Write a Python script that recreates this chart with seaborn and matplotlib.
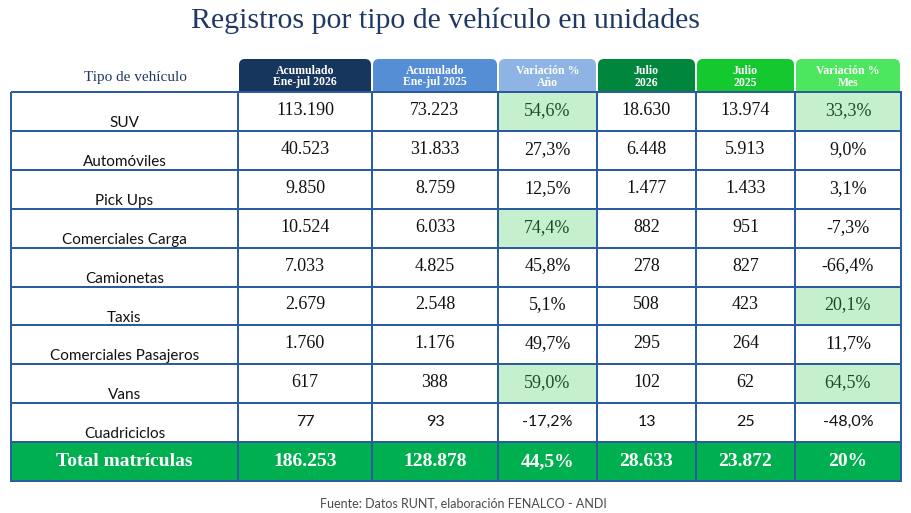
import numpy as np
import seaborn as sns
import matplotlib.pyplot as plt
from matplotlib.colors import ListedColormap
from matplotlib.patches import FancyBboxPatch

# Datos de la tabla (registros RUNT)
TIPOS = ["SUV", "Automóviles", "Pick Ups", "Comerciales Carga", "Camionetas",
         "Taxis", "Comerciales Pasajeros", "Vans", "Cuadriciclos"]
ACUM_2026 = [113190, 40523, 9850, 10524, 7033, 2679, 1760, 617, 77]
ACUM_2025 = [73223, 31833, 8759, 6033, 4825, 2548, 1176, 388, 93]
VAR_ANIO = [54.6, 27.3, 12.5, 74.4, 45.8, 5.1, 49.7, 59.0, -17.2]
JULIO_2026 = [18630, 6448, 1477, 882, 278, 508, 295, 102, 13]
JULIO_2025 = [13974, 5913, 1433, 951, 827, 423, 264, 62, 25]
VAR_MES = [33.3, 9.0, 3.1, -7.3, -66.4, 20.1, 11.7, 64.5, -48.0]
TOTAL = [186253, 128878, 44.5, 28633, 23872, 20]
HEADERS = ["Acumulado\nEne-jul 2026", "Acumulado\nEne-jul 2025", "Variación %\nAño",
           "Julio\n2026", "Julio\n2025", "Variación %\nMes"]
DESTACADOS_ANIO = ["SUV", "Comerciales Carga", "Vans"]
DESTACADOS_MES = ["SUV", "Taxis", "Vans"]

# Layout (pixeles)
COL_EDGES = [11, 238, 372, 498, 597, 696, 795, 901]
HEAD_TOP = 59
BODY_TOP = 92
ROW_H = 38.9
HEAD_COLORS = ["#17365D", "#558ED5", "#8DB4E2", "#00873D", "#14C930", "#4DE65F"]
BORDER = "#2B5C9E"
NAVY = "#1F3864"


def miles(v):
    return f"{v:,}".replace(",", ".")


def pct(v, dec=1):
    return f"{v:.{dec}f}%".replace(".", ",")


sns.set_theme(style="white")
fig = plt.figure(figsize=(9.12, 5.13), dpi=100)
ax = fig.add_axes([0, 0, 1, 1])
ax.set_xlim(0, 912)
ax.set_ylim(513, 0)
ax.axis("off")

# celdas
n = len(TIPOS)
codes = np.zeros((n + 1, 7))
for i, t in enumerate(TIPOS):
    if t in DESTACADOS_ANIO:
        codes[i, 3] = 1
    if t in DESTACADOS_MES:
        codes[i, 6] = 1
codes[n, :] = 2
row_edges = [BODY_TOP + ROW_H * i for i in range(n + 2)]
cmap = ListedColormap(["white", "#C6EFCE", "#00B050"])
ax.pcolormesh(COL_EDGES, row_edges, codes, cmap=cmap, vmin=-0.5, vmax=2.5,
              edgecolors=BORDER, linewidth=1.3, zorder=2)

# encabezados
for j, (h, c) in enumerate(zip(HEADERS, HEAD_COLORS)):
    x0, x1 = COL_EDGES[j + 1], COL_EDGES[j + 2]
    ax.add_patch(FancyBboxPatch((x0 + 1, HEAD_TOP), x1 - x0 - 2, 45,
                                boxstyle="round,pad=0,rounding_size=6",
                                facecolor=c, edgecolor="none", zorder=1))
    ax.text((x0 + x1) / 2, (HEAD_TOP + BODY_TOP) / 2 + 1, h, ha="center", va="center",
            color="white", fontsize=8.5, fontweight="bold", family="Liberation Serif",
            linespacing=1.0, zorder=3)

ax.text(135, 78, "Tipo de vehículo", ha="center", va="center", color=NAVY,
        fontsize=11, family="Liberation Serif", zorder=3)

# valores
cols = [ACUM_2026, ACUM_2025, VAR_ANIO, JULIO_2026, JULIO_2025, VAR_MES]
fmts = [miles, miles, pct, miles, miles, pct]
label_x = (COL_EDGES[0] + COL_EDGES[1]) / 2
for i, t in enumerate(TIPOS):
    top = row_edges[i]
    ax.text(label_x, top + 31, t, ha="center", va="center", color="#111111",
            fontsize=11, family="Lato", zorder=3)
    last = i == n - 1
    for j, (vals, f) in enumerate(zip(cols, fmts)):
        xc = (COL_EDGES[j + 1] + COL_EDGES[j + 2]) / 2
        hl = codes[i, j + 1] == 1
        ax.text(xc, top + ROW_H / 2 - 1, f(vals[i]), ha="center", va="center",
                color="#1A4D27" if hl else "#111111", fontsize=11.5 if last else 13,
                family="Lato" if last else "Liberation Serif", zorder=3)

# fila total
ytot = row_edges[n] + ROW_H / 2
ax.text(label_x, ytot, "Total matrículas", ha="center", va="center", color="white",
        fontsize=14, fontweight="bold", family="Liberation Serif", zorder=3)
tot_fmts = [miles, miles, pct, miles, miles, lambda v: pct(v, 0)]
for j, (v, f) in enumerate(zip(TOTAL, tot_fmts)):
    xc = (COL_EDGES[j + 1] + COL_EDGES[j + 2]) / 2
    ax.text(xc, ytot, f(v), ha="center", va="center", color="white",
            fontsize=14, fontweight="bold", family="Liberation Serif", zorder=3)

ax.text(446, 21, "Registros por tipo de vehículo en unidades", ha="center", va="center",
        color=NAVY, fontsize=21.5, family="Liberation Serif")
ax.text(463, 503, "Fuente: Datos RUNT, elaboración FENALCO - ANDI", ha="center",
        va="center", color="#4A4A4A", fontsize=9, family="Lato")

fig.savefig("out.png", dpi=100)
